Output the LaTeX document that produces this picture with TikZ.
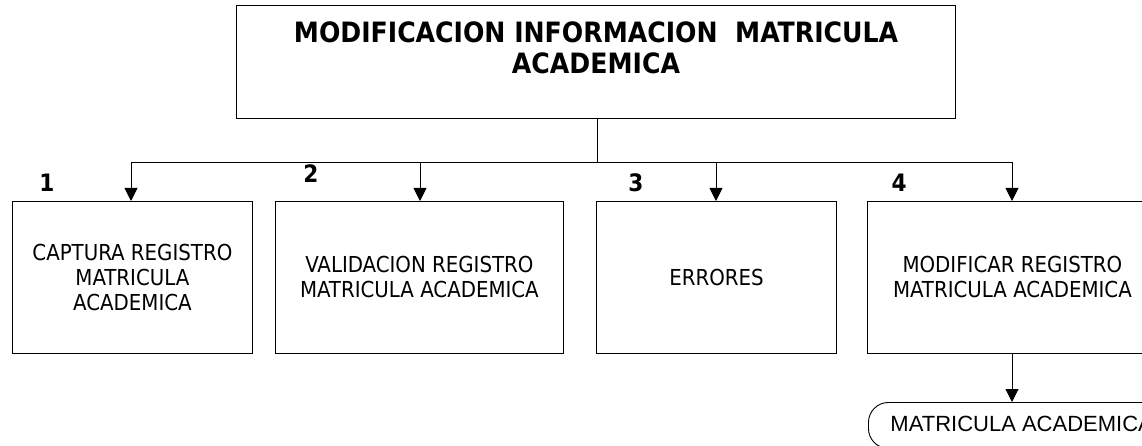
\documentclass[tikz,border=0pt]{standalone}
\usepackage{fontspec}
\setmainfont{DejaVu Sans Condensed}
\newfontfamily\arialfont{Liberation Sans}
\usetikzlibrary{arrows.meta}
\begin{document}
\begin{tikzpicture}[x=1pt,y=-1pt,
  line width=0.9pt,
  box/.style={draw,line width=0.9pt,align=center,inner sep=0pt,anchor=north west,
    font=\fontsize{22}{25}\selectfont},
  titletext/.style={align=center,inner sep=0pt,
    font=\fontsize{28}{31}\selectfont\bfseries},
  num/.style={font=\fontsize{24}{25}\selectfont\bfseries,inner sep=0pt},
  conn/.style={draw,line width=0.9pt},
  arr/.style={conn,-{Triangle[width=13pt,length=13pt]}},
  ]
\useasboundingbox (0,0) rectangle (1142,446);
\clip (0,0) rectangle (1142,446);
\node[box,minimum width=719pt,minimum height=113pt] (top) at (236,5) {};
\node[titletext] (tt) at (596,48)
  {MODIFICACION INFORMACION\ \ MATRICULA\\ACADEMICA};
\node[box,minimum width=240pt,minimum height=152pt] (b1) at (12,201)
  {CAPTURA REGISTRO\\MATRICULA\\ACADEMICA};
\node[box,minimum width=288pt,minimum height=152pt] (b2) at (275,201)
  {VALIDACION REGISTRO\\MATRICULA ACADEMICA};
\node[box,minimum width=240pt,minimum height=152pt] (b3) at (596,201)
  {ERRORES};
\node[box,minimum width=290pt,minimum height=152pt] (b4) at (867,201)
  {MODIFICAR REGISTRO\\MATRICULA ACADEMICA};
\node[draw,line width=0.9pt,rounded corners=20pt,anchor=north west,inner sep=0pt,
  minimum width=320pt,minimum height=46pt] (m) at (868,402) {};
\node[anchor=west,inner sep=0pt,font=\arialfont\fontsize{22}{24}\selectfont]
  (mt) at (890,424) {MATRICULA ACADEMICA};
\node[num] (n1) at (47,183) {1};
\node[num] (n2) at (311,174) {2};
\node[num] (n3) at (636,183) {3};
\node[num] (n4) at (899,183) {4};
\coordinate (j) at (597,162);
\coordinate (j1) at (131,162);
\coordinate (j2) at (420,162);
\coordinate (j3) at (716,162);
\coordinate (j4) at (1012,162);
\draw[conn] (top.south -| j) -- (j);
\draw[conn] (j1) -- (j4);
\draw[arr] (j1) -- (j1 |- b1.north);
\draw[arr] (j2) -- (j2 |- b2.north);
\draw[arr] (j3) -- (j3 |- b3.north);
\draw[arr] (j4) -- (j4 |- b4.north);
\draw[arr] (j4 |- b4.south) -- (j4 |- m.north);
\end{tikzpicture}
\end{document}
